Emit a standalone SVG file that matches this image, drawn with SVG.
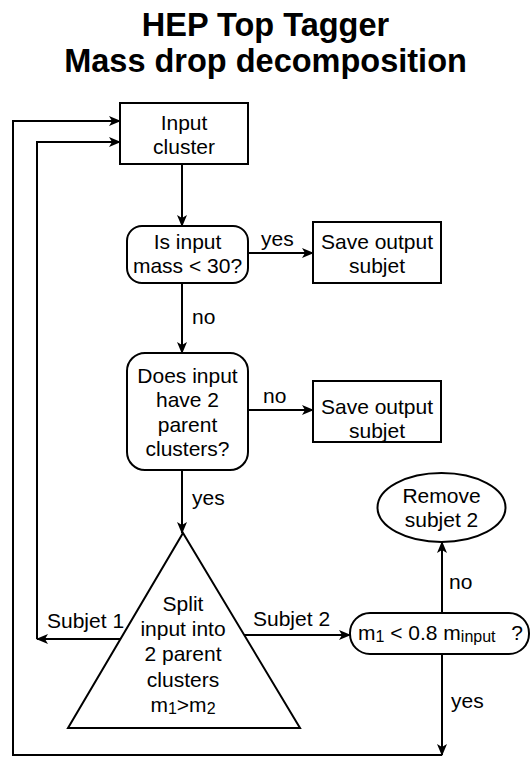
<svg xmlns="http://www.w3.org/2000/svg" width="531" height="758" viewBox="0 0 531 758">
<style>
  text { font-family: "Liberation Sans", Arial, sans-serif; font-size: 21px; fill: #000; }
  .t { text-anchor: middle; }
  .title { font-size: 32.5px; font-weight: bold; text-anchor: middle; }
  .shape { fill: #fff; stroke: #000; stroke-width: 2; }
  .edge { fill: none; stroke: #000; stroke-width: 2; }
  .sub { font-size: 16px; }
</style>
<defs>
  <marker id="arr" viewBox="0 0 12 10" refX="11" refY="5" markerWidth="12" markerHeight="10" markerUnits="userSpaceOnUse" orient="auto">
    <path d="M0,0 L12,5 L0,10 L3,5 z" fill="#000"/>
  </marker>
</defs>

<g id="title">
  <text class="title" x="265.5" y="36">HEP Top Tagger</text>
  <text class="title" x="265.5" y="72">Mass drop decomposition</text>
</g>

<g id="connectors">
  <path class="edge" d="M182,164 L182,226" marker-end="url(#arr)"/>
  <path class="edge" d="M248,253 L313,253" marker-end="url(#arr)"/>
  <path class="edge" d="M182,283 L182,353" marker-end="url(#arr)"/>
  <path class="edge" d="M248,410 L313,410" marker-end="url(#arr)"/>
  <path class="edge" d="M182,470 L182,533" marker-end="url(#arr)"/>
  <path class="edge" d="M121,639 L37,639" marker-end="url(#arr)"/>
  <path class="edge" d="M37,639 L37,142 L120,142" marker-end="url(#arr)"/>
  <path class="edge" d="M244,635 L350,635" marker-end="url(#arr)"/>
  <path class="edge" d="M442,613 L442,542" marker-end="url(#arr)"/>
  <path class="edge" d="M442,654 L442,755" marker-end="url(#arr)"/>
  <path class="edge" d="M442,755 L13,755 L13,121 L120,121" marker-end="url(#arr)"/>
  <text x="261" y="246">yes</text>
  <text x="192" y="324">no</text>
  <text x="263" y="403">no</text>
  <text x="192" y="505">yes</text>
  <text x="47" y="628">Subjet 1</text>
  <text x="253" y="626">Subjet 2</text>
  <text x="449" y="589">no</text>
  <text x="451" y="708">yes</text>
</g>

<g id="input-cluster">
  <rect class="shape" x="120" y="103" width="128" height="61"/>
  <text class="t" x="184" y="130">Input</text>
  <text class="t" x="184" y="154">cluster</text>
</g>

<g id="decision-mass">
  <rect class="shape" x="127" y="226" width="121" height="57" rx="15" ry="15"/>
  <text class="t" x="187.5" y="249">Is input</text>
  <text class="t" x="187.5" y="273">mass &lt; 30?</text>
</g>

<g id="save-output-1">
  <rect class="shape" x="313" y="222" width="128" height="61"/>
  <text class="t" x="377" y="249">Save output</text>
  <text class="t" x="377" y="273">subjet</text>
</g>

<g id="decision-parents">
  <rect class="shape" x="127" y="353" width="121" height="117" rx="18" ry="18"/>
  <text class="t" x="187.5" y="383">Does input</text>
  <text class="t" x="187.5" y="407">have 2</text>
  <text class="t" x="187.5" y="432">parent</text>
  <text class="t" x="187.5" y="456">clusters?</text>
</g>

<g id="save-output-2">
  <rect class="shape" x="313" y="381" width="128" height="61"/>
  <text class="t" x="377" y="414">Save output</text>
  <text class="t" x="377" y="438">subjet</text>
</g>

<g id="split">
  <path class="shape" d="M183,533 L300,728 L68,728 Z"/>
  <text class="t" x="183" y="611">Split</text>
  <text class="t" x="183" y="636">input into</text>
  <text class="t" x="183" y="661">2 parent</text>
  <text class="t" x="183" y="687">clusters</text>
  <text class="t" x="183" y="712">m<tspan class="sub" dy="2">1</tspan><tspan dy="-2">&gt;m</tspan><tspan class="sub" dy="2">2</tspan></text>
</g>

<g id="remove-subjet">
  <ellipse class="shape" cx="441.5" cy="507.5" rx="64" ry="34.5"/>
  <text class="t" x="441.5" y="503">Remove</text>
  <text class="t" x="441.5" y="527">subjet 2</text>
</g>

<g id="decision-mass-drop">
  <rect class="shape" x="350" y="613" width="179" height="41" rx="20" ry="20"/>
  <text x="358" y="640">m<tspan class="sub" dy="2">1</tspan><tspan dy="-2" xml:space="preserve"> &lt; 0.8 m</tspan><tspan class="sub" dy="2">input</tspan></text>
  <text x="523" y="640" text-anchor="end">?</text>
</g>
</svg>
